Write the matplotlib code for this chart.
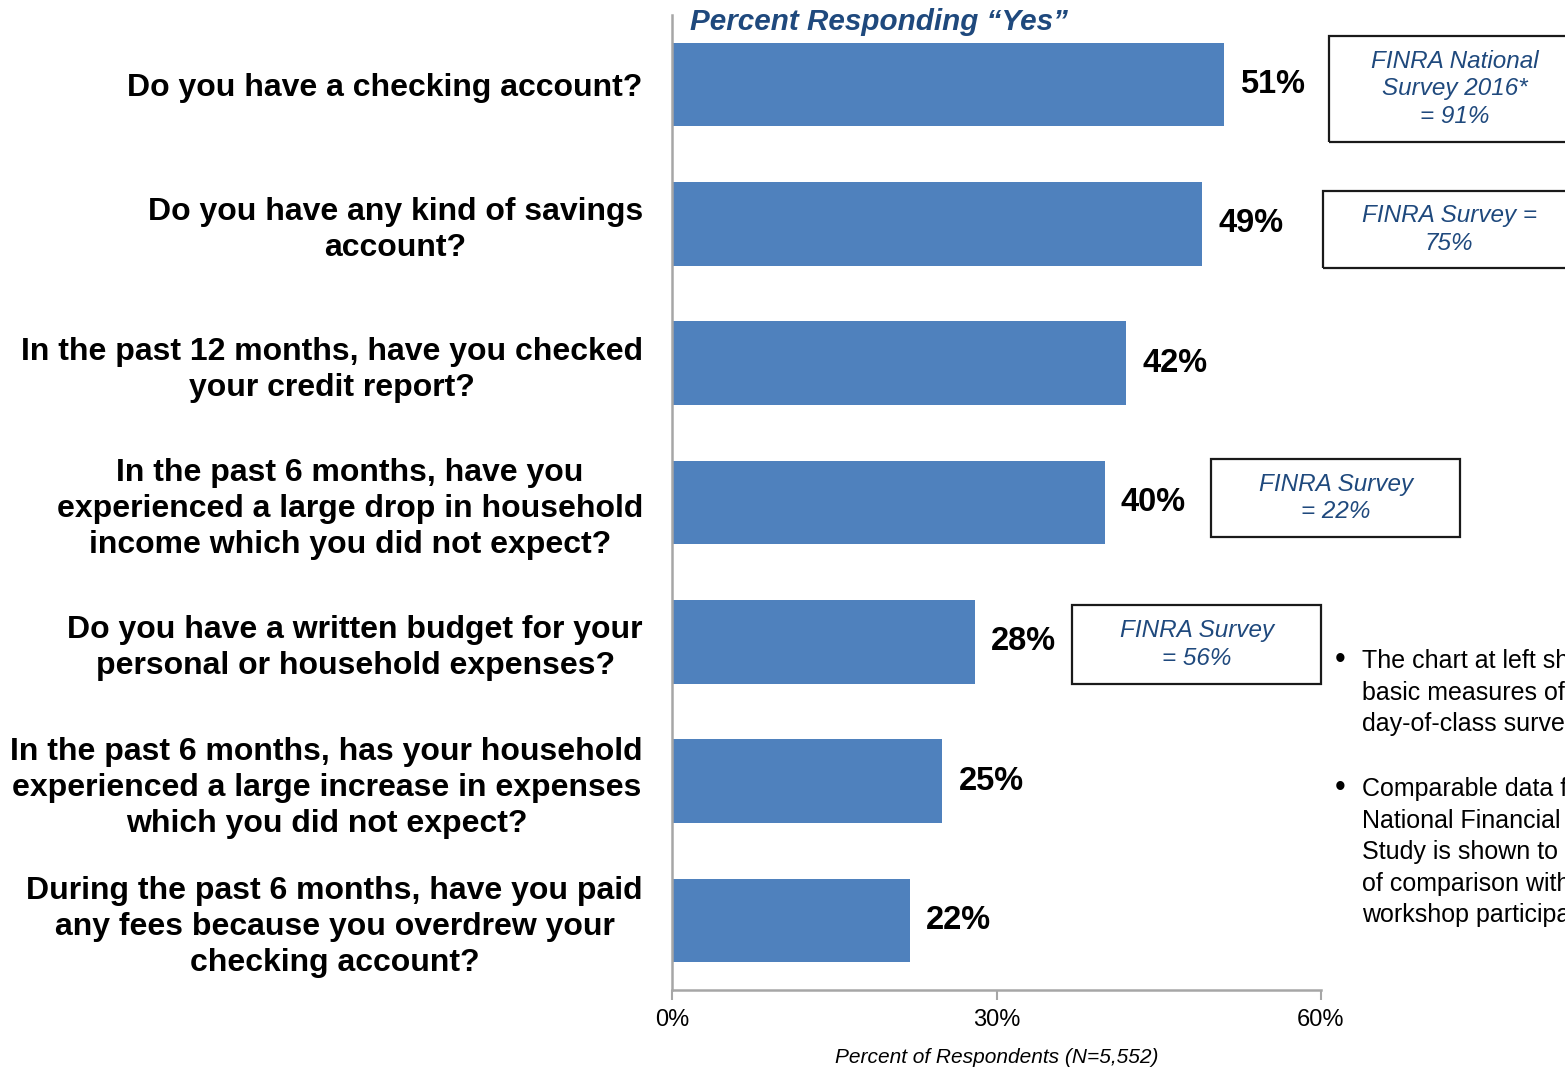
import matplotlib.pyplot as plt
from matplotlib.patches import Rectangle

plt.rcParams['font.family'] = ['Liberation Sans', 'DejaVu Sans']

questions = [
    "Do you have a checking account?",
    "Do you have any kind of savings\naccount?",
    "In the past 12 months, have you checked\nyour credit report?",
    "In the past 6 months, have you\nexperienced a large drop in household\nincome which you did not expect?",
    "Do you have a written budget for your\npersonal or household expenses?",
    "In the past 6 months, has your household\nexperienced a large increase in expenses\nwhich you did not expect?",
    "During the past 6 months, have you paid\nany fees because you overdrew your\nchecking account?",
]
pct_yes = [51, 49, 42, 40, 28, 25, 22]
x_ticks = [0, 30, 60]

finra_notes = [
    "FINRA National\nSurvey 2016*\n= 91%",
    "FINRA Survey =\n75%",
    "FINRA Survey\n= 22%",
    "FINRA Survey\n= 56%",
]

bullets = [
    "The chart at left shows\nbasic measures of\nday-of-class survey",
    "Comparable data from the\nNational Financial Capability\nStudy is shown to allow\nof comparison with\nworkshop participants",
]

BAR = "#4F81BD"
NAVY = "#1F497D"
AXIS = "#A6A6A6"

W, H = 1565, 1069
fig = plt.figure(figsize=(W / 100, H / 100), dpi=100)


def fx(px):
    return px / W


def fy(py):
    return 1 - py / H


ax = fig.add_axes([fx(672), fy(990), fx(1321) - fx(672), fy(15) - fy(990)])

pos = list(range(len(pct_yes)))
bars = ax.barh(pos, pct_yes, height=0.6, color=BAR)
ax.set_xlim(0, 60)
ax.set_ylim(len(pct_yes) - 0.5, -0.5)

for sp in ["top", "right"]:
    ax.spines[sp].set_visible(False)
for sp in ["left", "bottom"]:
    ax.spines[sp].set_color(AXIS)
    ax.spines[sp].set_linewidth(1.8)

ax.set_xticks(x_ticks)
ax.set_xticklabels(["%d%%" % t for t in x_ticks], fontsize=17)
ax.tick_params(axis="x", length=7, width=1.5, color=AXIS, pad=7)
ax.set_yticks(pos)
ax.set_yticklabels(questions, fontsize=23, fontweight="bold",
                   multialignment="center", linespacing=1.26)
ax.tick_params(axis="y", length=0, pad=21)

ax.set_xlabel("Percent of Respondents (N=5,552)", fontsize=15,
              style="italic", labelpad=12)

# value labels at the end of each bar
for rect, v in zip(bars, pct_yes):
    ax.text(v + 1.5, rect.get_y() + rect.get_height() / 2, "%d%%" % v,
            ha="left", va="center", fontsize=23.5, fontweight="bold")

fig.text(fx(690), fy(22), "Percent Responding \u201cYes\u201d", fontsize=21.3,
         fontweight="bold", style="italic", color=NAVY, ha="left", va="center")

# comparison boxes (left, top, right, bottom in pixels)
boxes = [(1329, 36, 1600, 142), (1323, 191, 1600, 268),
         (1211, 459, 1460, 537), (1072, 605, 1321, 684)]
text_cx = [1455, 1449, 1336, 1197]
for (l, t, r, b), cx, note in zip(boxes, text_cx, finra_notes):
    fig.add_artist(Rectangle((fx(l), fy(b)), fx(r) - fx(l), fy(t) - fy(b),
                             transform=fig.transFigure, fill=False,
                             edgecolor="#1a1a1a", linewidth=1.6))
    fig.text(fx(cx), fy((t + b) / 2), note, ha="center", va="center",
             fontsize=17.5, style="italic", color=NAVY, linespacing=1.27)

# bullet notes on the right
for y0, txt in zip([660, 788], bullets):
    fig.text(fx(1335), fy(y0), "\u2022", fontsize=22, ha="left", va="center")
    fig.text(fx(1362), fy(y0 - 11), txt, fontsize=18, ha="left", va="top",
             linespacing=1.4)

fig.savefig("out.png", dpi=100)
